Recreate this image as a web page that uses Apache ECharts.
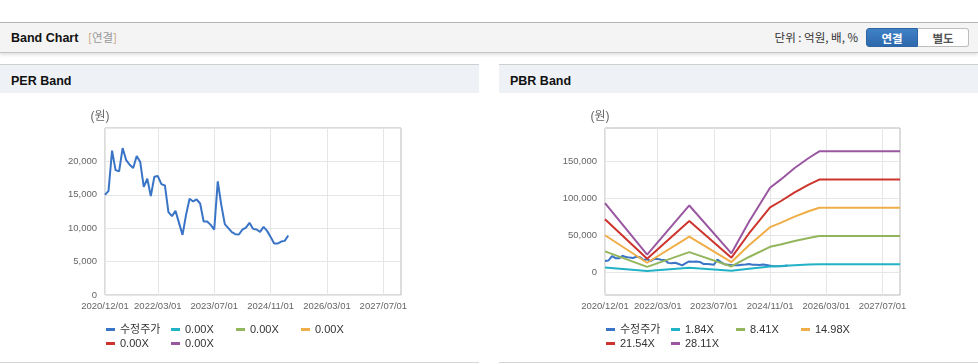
<!DOCTYPE html>
<html><head><meta charset="utf-8">
<script src="https://cdn.jsdelivr.net/npm/echarts@6/dist/echarts.min.js"></script>
<style>
body{margin:0;width:978px;height:364px;position:relative;overflow:hidden;background:#fff;font-family:"Liberation Sans","Noto Sans CJK KR",sans-serif;}
.hdr{position:absolute;left:0;top:22px;width:978px;height:29px;background:#f4f4f4;border-top:1px solid #b4b4b4;border-bottom:1px solid #c4c4c4;box-shadow:0 2px 3px rgba(0,0,0,0.12);}
.ttl{position:absolute;left:11px;top:1px;line-height:29px;font-size:12.5px;font-weight:bold;color:#111;}
.sub{position:absolute;left:88px;top:0;line-height:29px;font-size:11.5px;color:#999;font-family:"Noto Sans CJK KR",sans-serif;}
.sub b{font-weight:normal;color:#c9a27a;}
.unit{position:absolute;right:120px;top:0;line-height:29px;font-size:11.5px;color:#333;font-family:"Noto Sans CJK KR",sans-serif;}
.btn{position:absolute;top:5px;height:19px;line-height:18px;font-size:11.5px;font-weight:bold;text-align:center;box-sizing:border-box;font-family:"Noto Sans CJK KR",sans-serif;}
.b1{left:866px;width:52px;background:linear-gradient(#3f82c6,#2d68ab);color:#fff;border:1px solid #2c64a4;border-radius:3px 0 0 3px;}
.b2{left:918px;width:51px;background:#fff;color:#555;border:1px solid #bdbdbd;border-left:none;border-radius:0 3px 3px 0;}
.ph{position:absolute;top:64px;width:479px;height:28px;background:#eef2f7;border-top:1px solid #cfcfcf;}
.ph span{position:absolute;left:11px;top:2px;line-height:28px;font-size:12.5px;font-weight:bold;color:#111;}
.bl{position:absolute;top:362px;width:479px;height:1px;background:#d6d6d6;}
.cv{position:absolute;top:94px;width:479px;height:268px;}
</style></head>
<body>
<div class="hdr">
  <div class="ttl">Band Chart</div>
  <div class="sub"><b>[</b>연결<b>]</b></div>
  <div class="unit">단위 : 억원, 배, %</div>
  <div class="btn b1">연결</div>
  <div class="btn b2">별도</div>
</div>
<div class="ph" style="left:0"><span>PER Band</span></div>
<div class="ph" style="left:499px"><span>PBR Band</span></div>
<div class="cv" id="per" style="left:0"></div>
<div class="cv" id="pbr" style="left:499px"></div>
<div class="bl" style="left:0"></div>
<div class="bl" style="left:499px"></div>
<script>
// ---------- data ----------
// monthly categories 2020/12/01 .. 2027/12/01
const categories = [];
(function(){ let y = 2020, m = 12; for (let i = 0; i < 85; i++) { categories.push(y + '/' + String(m).padStart(2,'0') + '/01'); m++; if (m > 12) { m = 1; y++; } } })();

const tickLabels = ['2020/12/01','2022/03/01','2023/07/01','2024/11/01','2026/03/01','2027/07/01'];

// adjusted price (수정주가), monthly from 2020/12
const priceValues = [15000,15600,21600,18700,18500,22000,20200,19500,19000,20800,
  19900,16200,17400,14800,17700,17800,16600,16400,12400,11800,
  12600,10800,9000,12000,14400,14000,14300,13700,11000,11000,
  10500,9800,17000,13500,10600,10000,9400,9100,9050,9800,
  10100,10800,9900,9800,9450,10200,9600,8700,7700,7700,
  8000,8100,8900];

const perBandLabels = ['0.00X','0.00X','0.00X','0.00X','0.00X'];
const pbrBandLabels = ['1.84X','8.41X','14.98X','21.54X','28.11X'];

// PBR band values at their change points
const pbrBandMonths = ['2020/12/01','2021/12/01','2022/12/01','2023/12/01','2024/05/01','2024/11/01','2025/02/01','2025/06/01','2025/10/01','2026/01/01','2027/12/01'];
const pbrBand184  = [6100, 1550, 5890, 1660, 4450, 7450, 8170, 9200, 10080, 10670, 10670];
const pbrBand841  = [27890, 7060, 26910, 7570, 20350, 34060, 37340, 42050, 46090, 48780, 48780];
const pbrBand1498 = [49670, 12580, 47940, 13480, 36250, 60670, 66510, 74900, 82090, 86880, 86880];
const pbrBand2154 = [71430, 18090, 68930, 19390, 52130, 87240, 95640, 107700, 118040, 124930, 124930];
const pbrBand2811 = [93210, 23610, 89950, 25300, 68030, 113850, 124810, 140550, 154040, 163040, 163040];

const colors = ['#3a74c6','#22b2c6','#93b65c','#f0ae48','#cd342d','#9a57a1'];

// ---------- charts ----------
const FONT = '"Liberation Sans","Noto Sans CJK KR",sans-serif';
function showTick(i, v){ return tickLabels.indexOf(categories[i]) >= 0; }

function baseOption(yAxis, series, legendNames){
  return {
    animation: false,
    textStyle: {fontFamily: FONT},
    grid: {left: 105, right: 78, top: 34, bottom: 67, show: true, borderColor: '#b8b8b8', borderWidth: 1, backgroundColor: 'transparent'},
    legend: {
      left: 106, top: 230, width: 262, padding: 0, itemWidth: 9, itemHeight: 3, itemGap: 3, icon: 'rect',
      textStyle: {fontSize: 11, color: '#333', width: 48, lineHeight: 11, fontFamily: FONT},
      formatter: n => legendNames[n] || n,
      data: Object.keys(legendNames)
    },
    xAxis: {
      type: 'category', data: categories, boundaryGap: false,
      axisLine: {show: false}, axisTick: {show: false},
      axisLabel: {interval: showTick, fontSize: 9.5, color: '#666', margin: 7, fontFamily: FONT},
      splitLine: {show: true, interval: showTick, lineStyle: {color: '#e6e6e6'}}
    },
    yAxis: yAxis,
    series: series
  };
}

function lineSeries(name, data, color){
  return {name: name, type: 'line', data: data, showSymbol: false, symbol: 'none', connectNulls: true,
    lineStyle: {width: 2, color: color}, itemStyle: {color: color}, z: 2};
}
function pairs(months, vals){ return months.map((m, i) => [m, vals[i]]); }

// PER
const perNames = {'price': '수정주가'};
perBandLabels.forEach((l, i) => perNames['per' + i] = l);
const perSeries = [lineSeries('price', priceValues, colors[0])];
perBandLabels.forEach((l, i) => perSeries.push(lineSeries('per' + i, [], colors[i + 1])));
const perY = {
  type: 'value', min: 0, max: 25000, interval: 5000,
  name: '(원)', nameLocation: 'end', nameGap: 5,
  nameTextStyle: {fontSize: 12, color: '#666', padding: [0, 10, 0, 0], fontFamily: FONT},
  axisLine: {show: false}, axisTick: {show: false},
  axisLabel: {showMaxLabel: false, fontSize: 9.5, color: '#666', margin: 8, fontFamily: FONT},
  splitLine: {lineStyle: {color: '#e6e6e6'}}
};
echarts.init(document.getElementById('per')).setOption(baseOption(perY, perSeries, perNames));

// PBR
const pbrNames = {'price': '수정주가'};
pbrBandLabels.forEach((l, i) => pbrNames['pbr' + i] = l);
const pbrBandValues = [pbrBand184, pbrBand841, pbrBand1498, pbrBand2154, pbrBand2811];
const pbrSeries = [lineSeries('price', priceValues, colors[0])];
pbrBandValues.forEach((vals, i) => pbrSeries.push(lineSeries('pbr' + i, pairs(pbrBandMonths, vals), colors[i + 1])));
const pbrTicks = [0, 50000, 100000, 150000];
const pbrY = {
  type: 'value', min: -31000, max: 194600,
  name: '(원)', nameLocation: 'end', nameGap: 5,
  nameTextStyle: {fontSize: 12, color: '#666', padding: [0, 10, 0, 0], fontFamily: FONT},
  axisLine: {show: false}, axisTick: {show: false, customValues: pbrTicks},
  axisLabel: {customValues: pbrTicks, fontSize: 9.5, color: '#666', margin: 8, fontFamily: FONT},
  splitLine: {lineStyle: {color: '#e6e6e6'}}
};
const pbrOpt = baseOption(pbrY, pbrSeries, pbrNames);
pbrOpt.grid.left = 106;
pbrOpt.legend.left = 107;
echarts.init(document.getElementById('pbr')).setOption(pbrOpt);
</script>
</body></html>
